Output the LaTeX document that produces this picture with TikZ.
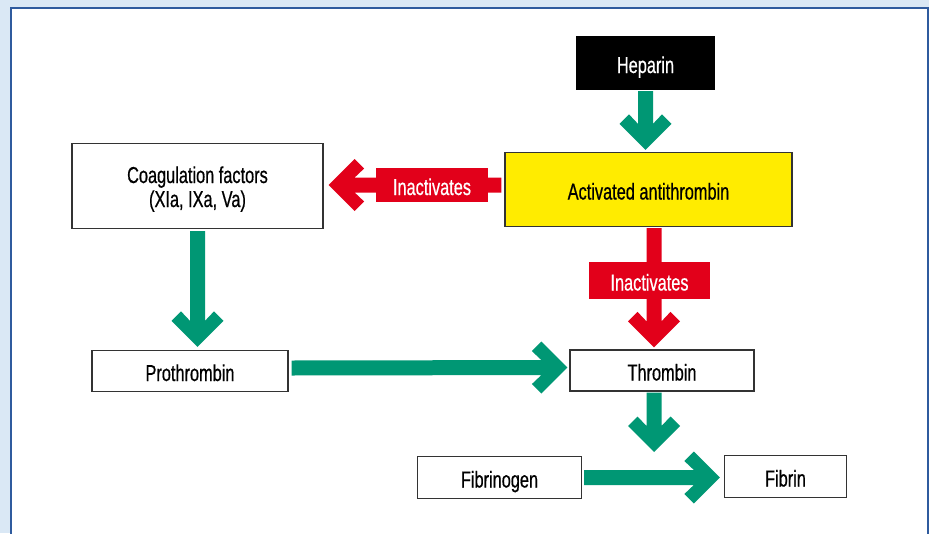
\documentclass[tikz,border=0pt]{standalone}
\usepackage{fontspec}
\setmainfont{Liberation Sans}[FakeStretch=0.71,FakeBold=0.6]
\usepackage{tikz}
\usetikzlibrary{calc}

\definecolor{arrgreen}{HTML}{009774}
\definecolor{inhred}{HTML}{E2001A}
\definecolor{aayellow}{HTML}{FFEC00}
\definecolor{panelblue}{HTML}{DAE8F5}
\definecolor{frameblue}{HTML}{2F5B9E}

% broad arrow with a chevron head, from #2 to #3
\newcommand\fatarrow[3]{%
  \coordinate (fa-s) at #2;
  \coordinate (fa-t) at #3;
  \coordinate (fa-m) at ($(fa-t)!26pt!(fa-s)$);
  \coordinate (fa-n) at ($(fa-t)!35.5pt!(fa-s)$);
  \fill[#1] ($(fa-s)!7.5pt!90:(fa-t)$) -- ($(fa-m)!7.5pt!90:(fa-t)$)
    -- ($(fa-n)!16.5pt!90:(fa-t)$) -- ($(fa-m)!26pt!90:(fa-t)$) -- (fa-t)
    -- ($(fa-m)!26pt!-90:(fa-t)$) -- ($(fa-n)!16.5pt!-90:(fa-t)$)
    -- ($(fa-m)!7.5pt!-90:(fa-t)$) -- ($(fa-s)!7.5pt!-90:(fa-t)$) -- cycle;
}

\begin{document}
\begin{tikzpicture}[
  x=1pt,y=-1pt,
  txt/.style={font=\fontsize{23}{24}\selectfont,align=center,inner sep=0pt,
    text height=20pt,text depth=0pt},
  box/.style={txt,draw=black!80,line width=1.3pt,fill=white},
  label/.style={txt,fill=inhred,text=white}
]
  \useasboundingbox (0,0) rectangle (929,533);
  \fill[panelblue] (0,0) rectangle (929,533);
  \filldraw[fill=white,draw=frameblue,line width=1.5pt] (11,8) rectangle (928,545);

  \node[txt,fill=black,text=white,minimum width=139,minimum height=54] (hep) at (645.5,63) {Heparin};
  \node[box,fill=aayellow,minimum width=287,minimum height=74] (aa) at (648.5,189.5) {Activated antithrombin};
  \node[box,text height=42pt,minimum width=251,minimum height=85] (coag) at (197.5,186) {Coagulation factors\\(XIa, IXa, Va)};
  \node[box,minimum width=196,minimum height=41] (pro) at (190,371) {Prothrombin};
  \node[box,minimum width=184,minimum height=41] (thr) at (662,370.5) {Thrombin};
  \node[box,minimum width=164,minimum height=42] (fbg) at (499.5,477.5) {Fibrinogen};
  \node[box,minimum width=122,minimum height=42] (fib) at (785.5,476.5) {Fibrin};

  \coordinate (midcol) at (654,0);
  \coordinate (join) at (654,452);

  \fatarrow{arrgreen}{($(hep.south)+(0,1)$)}{($(aa.north-|hep.south)+(0,-2)$)}
  \fatarrow{arrgreen}{($(coag.south)+(0,2)$)}{($(pro.north-|coag.south)+(0,-3)$)}
  \fatarrow{arrgreen}{($(pro.east)+(3,-3)$)}{($(thr.west)+(-2,-3)$)}
  \fatarrow{arrgreen}{($(thr.south-|midcol)+(0,1)$)}{(join)}
  \fatarrow{arrgreen}{($(fbg.east)+(2,0)$)}{($(fib.west|-fbg.east)+(-4,0)$)}

  \fatarrow{inhred}{($(aa.west)+(-3,-4.5)$)}{($(coag.east)+(5,-1)$)}
  \fatarrow{inhred}{($(aa.south-|midcol)+(0,1)$)}{($(thr.north-|midcol)+(0,-2)$)}

  \node[label,minimum width=112,minimum height=34] (inh1) at (432,185) {Inactivates};
  \node[label,minimum width=121,minimum height=37] (inh2) at (649.5,280.5) {Inactivates};
\end{tikzpicture}
\end{document}
